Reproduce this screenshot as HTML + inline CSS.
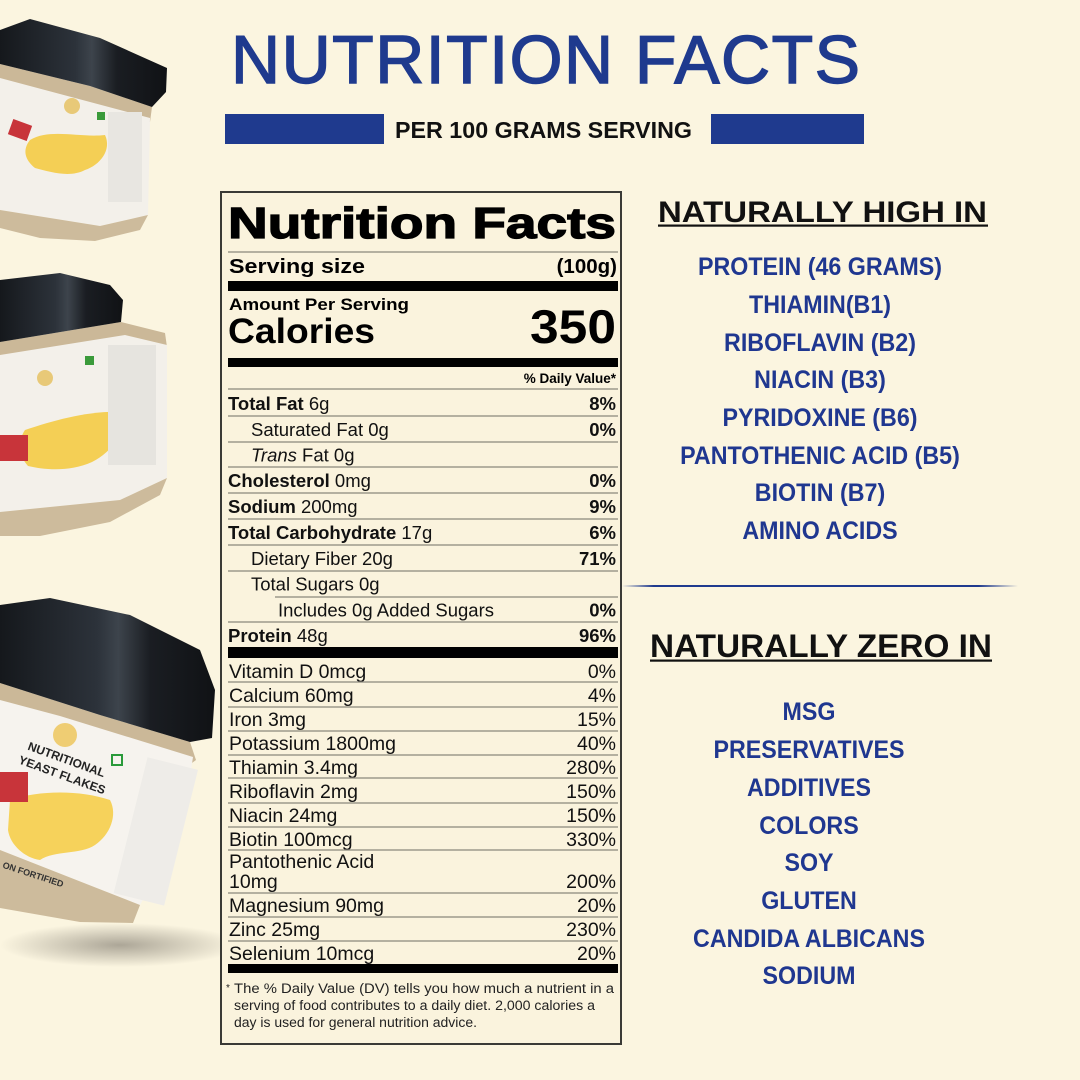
<!DOCTYPE html>
<html>
<head>
<meta charset="utf-8">
<style>
  html,body{margin:0;padding:0;background:#fbf5e0;}
  svg{display:block;}
  text{font-family:"Liberation Sans", Arial, sans-serif;}
</style>
</head>
<body>
<svg width="1080" height="1080" viewBox="0 0 1080 1080" xmlns="http://www.w3.org/2000/svg">
  <defs>
    <linearGradient id="divg" x1="0" x2="1" y1="0" y2="0">
      <stop offset="0" stop-color="#1f3a8e" stop-opacity="0"/>
      <stop offset="0.08" stop-color="#1f3a8e" stop-opacity="1"/>
      <stop offset="0.9" stop-color="#1f3a8e" stop-opacity="1"/>
      <stop offset="1" stop-color="#1f3a8e" stop-opacity="0"/>
    </linearGradient>
    <radialGradient id="shadow" cx="0.5" cy="0.5" r="0.5">
      <stop offset="0" stop-color="#8a8478" stop-opacity="0.7"/>
      <stop offset="1" stop-color="#8a8478" stop-opacity="0"/>
    </radialGradient>
    <linearGradient id="lidg" x1="0" x2="1" y1="0" y2="0">
      <stop offset="0" stop-color="#15181c"/>
      <stop offset="0.45" stop-color="#2c323a"/>
      <stop offset="0.55" stop-color="#3d444c"/>
      <stop offset="0.7" stop-color="#1a1d22"/>
      <stop offset="1" stop-color="#101215"/>
    </linearGradient>
  </defs>

  <rect width="1080" height="1080" fill="#fbf5e0"/>

  <!-- ============ JARS ============ -->
  <!-- Jar 1 -->
  <g>
    <polygon points="0,64 90,86 152,107 150,122 0,88" fill="#cbb898"/>
    <polygon points="0,78 150,118 148,215 100,226 0,210" fill="#f3f0ea"/>
    <polygon points="0,210 100,226 148,215 140,230 95,241 40,238 0,228" fill="#cdbb9c"/>
    <path d="M30,140 C50,128 80,138 105,135 C112,150 100,165 85,170 C70,178 50,172 35,168 C25,160 22,150 30,140 Z" fill="#f4cf55"/>
    <rect x="10" y="122" width="20" height="16" fill="#c8343a" transform="rotate(20 20 130)"/>
    <circle cx="72" cy="106" r="8" fill="#e8c978"/>
    <rect x="108" y="112" width="34" height="90" fill="#e8e6e1"/>
    <rect x="97" y="112" width="8" height="8" fill="#3a9a3a"/>
    <polygon points="0,30 30,19 100,38 167,68 166,92 152,107 90,86 0,64" fill="url(#lidg)"/>
  </g>

  <!-- Jar 2 -->
  <g>
    <polygon points="0,342 121,322 165,333 167,347 0,362" fill="#cbb898"/>
    <polygon points="0,355 125,335 167,345 167,478 120,500 0,512" fill="#f3f0ea"/>
    <polygon points="0,512 120,500 167,478 160,495 110,522 40,536 0,536" fill="#cdbb9c"/>
    <path d="M25,430 C55,420 90,410 125,412 C128,430 112,452 92,462 C70,472 45,470 28,466 C18,455 18,440 25,430 Z" fill="#f4cf55"/>
    <rect x="0" y="435" width="28" height="26" fill="#c8343a"/>
    <circle cx="45" cy="378" r="8" fill="#e8c978"/>
    <rect x="108" y="345" width="48" height="120" fill="#e6e4df"/>
    <rect x="85" y="356" width="9" height="9" fill="#3a9a3a"/>
    <polygon points="0,280 60,273 110,285 123,300 121,322 0,342" fill="url(#lidg)"/>
  </g>

  <!-- Jar 3 -->
  <g>
    <ellipse cx="120" cy="945" rx="120" ry="22" fill="url(#shadow)"/>
    <polygon points="0,683 100,715 190,742 196,760 185,768 0,722" fill="#cbb898"/>
    <polygon points="0,700 60,716 193,757 182,830 140,905 0,850" fill="#f6f3ee"/>
    <polygon points="0,850 140,905 133,923 80,922 0,908" fill="#cdbb9c"/>
    <path d="M10,800 C40,790 80,790 110,800 C118,815 110,835 95,845 C80,855 55,850 40,860 C25,858 10,845 8,830 Z" fill="#f6d25b"/>
    <rect x="0" y="772" width="28" height="30" fill="#c8343a"/>
    <circle cx="65" cy="735" r="12" fill="#efcd73"/>
    <rect x="112" y="755" width="10" height="10" fill="none" stroke="#2a9a3a" stroke-width="2"/>
    <rect x="130" y="760" width="52" height="140" fill="#eeece8" transform="rotate(14 150 830)"/>
    <text x="22" y="762" font-size="12" font-weight="bold" fill="#222" transform="rotate(20 60 770)">NUTRITIONAL</text>
    <text x="18" y="778" font-size="12" font-weight="bold" fill="#222" transform="rotate(20 60 770)">YEAST FLAKES</text>
    <text x="0" y="880" font-size="9" font-weight="bold" fill="#333" transform="rotate(18 40 880)">ON FORTIFIED</text>
    <polygon points="0,605 50,598 130,615 200,650 215,690 212,738 190,742 100,715 0,683" fill="url(#lidg)"/>
  </g>

  <!-- ============ HEADER ============ -->
  <text x="231" y="83" font-size="68" font-weight="normal" fill="#1f3a8e" stroke="#1f3a8e" stroke-width="1.4" textLength="629" lengthAdjust="spacing">NUTRITION FACTS</text>

  <rect x="225" y="114" width="159" height="30" fill="#1f3a8e"/>
  <rect x="711" y="114" width="153" height="30" fill="#1f3a8e"/>
  <text x="395" y="138" font-size="23.5" font-weight="bold" fill="#111" textLength="297" lengthAdjust="spacingAndGlyphs">PER 100 GRAMS SERVING</text>

  <!-- ============ NUTRITION LABEL ============ -->
  <rect x="221" y="192" width="400" height="852" fill="#faf3dd" stroke="#3a3a36" stroke-width="2"/>

  <text x="228" y="238" font-size="44" font-weight="bold" fill="#000" stroke="#000" stroke-width="1.3" textLength="388" lengthAdjust="spacingAndGlyphs">Nutrition Facts</text>
  <line x1="228" y1="252" x2="618" y2="252" stroke="#8a877c" stroke-width="1.2"/>

  <text x="229" y="273" font-size="20.5" font-weight="bold" fill="#000" textLength="136" lengthAdjust="spacingAndGlyphs">Serving size</text>
  <text x="617" y="273" font-size="20.5" font-weight="bold" fill="#000" text-anchor="end">(100g)</text>
  <rect x="228" y="281" width="390" height="10" fill="#000"/>

  <text x="229" y="310" font-size="17" font-weight="bold" fill="#000" textLength="180" lengthAdjust="spacingAndGlyphs">Amount Per Serving</text>
  <text x="228" y="343" font-size="35" font-weight="bold" fill="#000" textLength="147" lengthAdjust="spacingAndGlyphs">Calories</text>
  <text x="616" y="343" font-size="47" font-weight="bold" fill="#000" text-anchor="end" textLength="86" lengthAdjust="spacingAndGlyphs">350</text>
  <rect x="228" y="358" width="390" height="9" fill="#000"/>

  <text x="616" y="383" font-size="13.5" font-weight="bold" fill="#000" text-anchor="end">% Daily Value*</text>
  <line x1="228" y1="389" x2="618" y2="389" stroke="#8a877c" stroke-width="1.2"/>

  <g font-size="18.5" fill="#111">
    <text x="228" y="410"><tspan font-weight="bold">Total Fat</tspan> 6g</text>
    <text x="616" y="410" text-anchor="end" font-weight="bold">8%</text>
    <line x1="228" y1="416" x2="618" y2="416" stroke="#8a877c" stroke-width="1.2"/>

    <text x="251" y="436">Saturated Fat 0g</text>
    <text x="616" y="436" text-anchor="end" font-weight="bold">0%</text>
    <line x1="228" y1="442" x2="618" y2="442" stroke="#8a877c" stroke-width="1.2"/>

    <text x="251" y="461.5"><tspan font-style="italic">Trans</tspan> Fat 0g</text>
    <line x1="228" y1="467" x2="618" y2="467" stroke="#8a877c" stroke-width="1.2"/>

    <text x="228" y="487"><tspan font-weight="bold">Cholesterol</tspan> 0mg</text>
    <text x="616" y="487" text-anchor="end" font-weight="bold">0%</text>
    <line x1="228" y1="493" x2="618" y2="493" stroke="#8a877c" stroke-width="1.2"/>

    <text x="228" y="513"><tspan font-weight="bold">Sodium</tspan> 200mg</text>
    <text x="616" y="513" text-anchor="end" font-weight="bold">9%</text>
    <line x1="228" y1="519" x2="618" y2="519" stroke="#8a877c" stroke-width="1.2"/>

    <text x="228" y="539"><tspan font-weight="bold">Total Carbohydrate</tspan> 17g</text>
    <text x="616" y="539" text-anchor="end" font-weight="bold">6%</text>
    <line x1="228" y1="545" x2="618" y2="545" stroke="#8a877c" stroke-width="1.2"/>

    <text x="251" y="565">Dietary Fiber 20g</text>
    <text x="616" y="565" text-anchor="end" font-weight="bold">71%</text>
    <line x1="228" y1="571" x2="618" y2="571" stroke="#8a877c" stroke-width="1.2"/>

    <text x="251" y="590.5">Total Sugars 0g</text>
    <line x1="275" y1="597" x2="618" y2="597" stroke="#8a877c" stroke-width="1.2"/>

    <text x="278" y="616.5">Includes 0g Added Sugars</text>
    <text x="616" y="616.5" text-anchor="end" font-weight="bold">0%</text>
    <line x1="228" y1="622" x2="618" y2="622" stroke="#8a877c" stroke-width="1.2"/>

    <text x="228" y="642"><tspan font-weight="bold">Protein</tspan> 48g</text>
    <text x="616" y="642" text-anchor="end" font-weight="bold">96%</text>
  </g>
  <rect x="228" y="647" width="390" height="11" fill="#000"/>

  <g font-size="19.5" fill="#111">
    <text x="229" y="678">Vitamin D 0mcg</text><text x="616" y="678" text-anchor="end">0%</text>
    <line x1="228" y1="682" x2="618" y2="682" stroke="#8a877c" stroke-width="1.2"/>
    <text x="229" y="702">Calcium 60mg</text><text x="616" y="702" text-anchor="end">4%</text>
    <line x1="228" y1="707" x2="618" y2="707" stroke="#8a877c" stroke-width="1.2"/>
    <text x="229" y="726">Iron 3mg</text><text x="616" y="726" text-anchor="end">15%</text>
    <line x1="228" y1="731" x2="618" y2="731" stroke="#8a877c" stroke-width="1.2"/>
    <text x="229" y="750">Potassium 1800mg</text><text x="616" y="750" text-anchor="end">40%</text>
    <line x1="228" y1="755" x2="618" y2="755" stroke="#8a877c" stroke-width="1.2"/>
    <text x="229" y="774">Thiamin 3.4mg</text><text x="616" y="774" text-anchor="end">280%</text>
    <line x1="228" y1="778" x2="618" y2="778" stroke="#8a877c" stroke-width="1.2"/>
    <text x="229" y="798">Riboflavin 2mg</text><text x="616" y="798" text-anchor="end">150%</text>
    <line x1="228" y1="803" x2="618" y2="803" stroke="#8a877c" stroke-width="1.2"/>
    <text x="229" y="822">Niacin 24mg</text><text x="616" y="822" text-anchor="end">150%</text>
    <line x1="228" y1="827" x2="618" y2="827" stroke="#8a877c" stroke-width="1.2"/>
    <text x="229" y="846">Biotin 100mcg</text><text x="616" y="846" text-anchor="end">330%</text>
    <line x1="228" y1="850" x2="618" y2="850" stroke="#8a877c" stroke-width="1.2"/>
    <text x="229" y="868">Pantothenic Acid</text>
    <text x="229" y="888">10mg</text><text x="616" y="888" text-anchor="end">200%</text>
    <line x1="228" y1="893" x2="618" y2="893" stroke="#8a877c" stroke-width="1.2"/>
    <text x="229" y="912">Magnesium 90mg</text><text x="616" y="912" text-anchor="end">20%</text>
    <line x1="228" y1="917" x2="618" y2="917" stroke="#8a877c" stroke-width="1.2"/>
    <text x="229" y="936">Zinc 25mg</text><text x="616" y="936" text-anchor="end">230%</text>
    <line x1="228" y1="941" x2="618" y2="941" stroke="#8a877c" stroke-width="1.2"/>
    <text x="229" y="960">Selenium 10mcg</text><text x="616" y="960" text-anchor="end">20%</text>
  </g>
  <rect x="228" y="964" width="390" height="9" fill="#000"/>

  <g font-size="13.5" fill="#222">
    <text x="226" y="991" font-size="10">*</text>
    <text x="234" y="993" textLength="380" lengthAdjust="spacingAndGlyphs">The % Daily Value (DV) tells you how much a nutrient in a</text>
    <text x="234" y="1010" textLength="361" lengthAdjust="spacingAndGlyphs">serving of food contributes to a daily diet. 2,000 calories a</text>
    <text x="234" y="1027" textLength="243" lengthAdjust="spacingAndGlyphs">day is used for general nutrition advice.</text>
  </g>

  <!-- ============ RIGHT COLUMN ============ -->
  <text x="658" y="222" font-size="30" font-weight="bold" fill="#111" textLength="329" lengthAdjust="spacingAndGlyphs">NATURALLY HIGH IN</text>
  <rect x="658" y="224.5" width="330" height="2.2" fill="#111"/>

  <g font-size="25" font-weight="bold" fill="#1f3790" text-anchor="middle">
    <g transform="translate(820,0) scale(0.93,1)">
      <text x="0" y="275">PROTEIN (46 GRAMS)</text>
      <text x="0" y="313">THIAMIN(B1)</text>
      <text x="0" y="351">RIBOFLAVIN (B2)</text>
      <text x="0" y="388">NIACIN (B3)</text>
      <text x="0" y="426">PYRIDOXINE (B6)</text>
      <text x="0" y="464">PANTOTHENIC ACID (B5)</text>
      <text x="0" y="501">BIOTIN (B7)</text>
      <text x="0" y="539">AMINO ACIDS</text>
    </g>
  </g>

  <rect x="622" y="585" width="396" height="2" fill="url(#divg)"/>

  <text x="650" y="657" font-size="32" font-weight="bold" fill="#111" textLength="342" lengthAdjust="spacingAndGlyphs">NATURALLY ZERO IN</text>
  <rect x="650" y="659.5" width="342" height="2.2" fill="#111"/>

  <g font-size="25" font-weight="bold" fill="#1f3790" text-anchor="middle">
    <g transform="translate(809,0) scale(0.93,1)">
      <text x="0" y="720">MSG</text>
      <text x="0" y="758">PRESERVATIVES</text>
      <text x="0" y="796">ADDITIVES</text>
      <text x="0" y="834">COLORS</text>
      <text x="0" y="871">SOY</text>
      <text x="0" y="909">GLUTEN</text>
      <text x="0" y="947">CANDIDA ALBICANS</text>
      <text x="0" y="984">SODIUM</text>
    </g>
  </g>
</svg>
</body>
</html>
